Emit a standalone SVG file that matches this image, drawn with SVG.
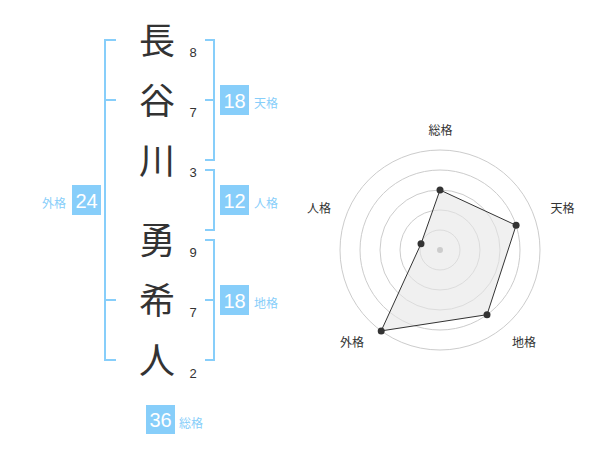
<svg xmlns="http://www.w3.org/2000/svg" width="600" height="470" viewBox="0 0 600 470">
<style>
.kanji{font-family:"Noto Sans CJK JP","Noto Sans CJK SC",sans-serif;font-size:36px;fill:#333;text-anchor:middle}
.num{font-family:"Liberation Sans",Arial,sans-serif;font-size:13px;fill:#333;text-anchor:middle}
.br{fill:none;stroke:#87cefa;stroke-width:2}
.box{fill:#87cefa}
.bn{font-family:"Liberation Sans",Arial,sans-serif;font-size:20px;fill:#fff;text-anchor:middle}
.bl{font-family:"Noto Sans CJK JP","Noto Sans CJK SC",sans-serif;font-size:12px;fill:#87cefa}
.ring{fill:none;stroke:#ccc;stroke-width:1}
.rl{font-family:"Noto Sans CJK JP","Noto Sans CJK SC",sans-serif;font-size:12px;fill:#333;text-anchor:middle}
.dot{fill:#333}
</style>
<g id="name">
<text class="kanji" x="157" y="54">長</text>
<text class="kanji" x="157" y="114">谷</text>
<text class="kanji" x="157" y="174">川</text>
<text class="kanji" x="157" y="254">勇</text>
<text class="kanji" x="157" y="314">希</text>
<text class="kanji" x="157" y="374">人</text>
<text class="num" x="193" y="57">8</text>
<text class="num" x="193" y="117">7</text>
<text class="num" x="193" y="177">3</text>
<text class="num" x="193" y="257">9</text>
<text class="num" x="193" y="317">7</text>
<text class="num" x="193" y="378">2</text>
</g>
<g id="connectors">
<path class="br" d="M116,40 H105 V360 H116 M105,100 H116 M105,300 H116"/>
<path class="br" d="M205,40 H214 V160 H205 M214,100 H205"/>
<path class="br" d="M205,170 H214 V230 H205"/>
<path class="br" d="M205,240 H214 V360 H205 M214,300 H205"/>
</g>
<g id="tenkaku">
<rect class="box" x="220" y="85" width="29" height="30"/>
<text class="bn" x="234.5" y="107.5">18</text>
<text class="bl" x="254" y="108">天格</text>
</g>
<g id="jinkaku">
<rect class="box" x="220" y="185" width="29" height="30"/>
<text class="bn" x="234.5" y="207.5">12</text>
<text class="bl" x="254" y="208">人格</text>
</g>
<g id="chikaku">
<rect class="box" x="220" y="285" width="29" height="30"/>
<text class="bn" x="234.5" y="307.5">18</text>
<text class="bl" x="254" y="308">地格</text>
</g>
<g id="gaikaku">
<rect class="box" x="72" y="185" width="29" height="30"/>
<text class="bn" x="86.5" y="207.5">24</text>
<text class="bl" x="66" y="208" text-anchor="end">外格</text>
</g>
<g id="soukaku">
<rect class="box" x="146" y="405" width="29" height="29"/>
<text class="bn" x="160.5" y="427">36</text>
<text class="bl" x="179" y="428">総格</text>
</g>
<g id="radar">
<circle class="ring" cx="440" cy="250" r="20"/>
<circle class="ring" cx="440" cy="250" r="40"/>
<circle class="ring" cx="440" cy="250" r="60"/>
<circle class="ring" cx="440" cy="250" r="80"/>
<circle class="ring" cx="440" cy="250" r="100"/>
<polygon points="440,190 516.1,225.3 487,314.7 381.2,330.9 421,243.8" fill="#e6e6e6" fill-opacity="0.6" stroke="#333" stroke-width="1"/>
<circle cx="440" cy="250" r="3" fill="#ccc"/>
<circle class="dot" cx="440" cy="190" r="3.5"/>
<circle class="dot" cx="516.1" cy="225.3" r="3.5"/>
<circle class="dot" cx="487" cy="314.7" r="3.5"/>
<circle class="dot" cx="381.2" cy="330.9" r="3.5"/>
<circle class="dot" cx="421" cy="243.8" r="3.5"/>
<text class="rl" x="440.5" y="135">総格</text>
<text class="rl" x="562.5" y="213">天格</text>
<text class="rl" x="524" y="346.5">地格</text>
<text class="rl" x="352" y="346.5">外格</text>
<text class="rl" x="319" y="213">人格</text>
</g>
</svg>
